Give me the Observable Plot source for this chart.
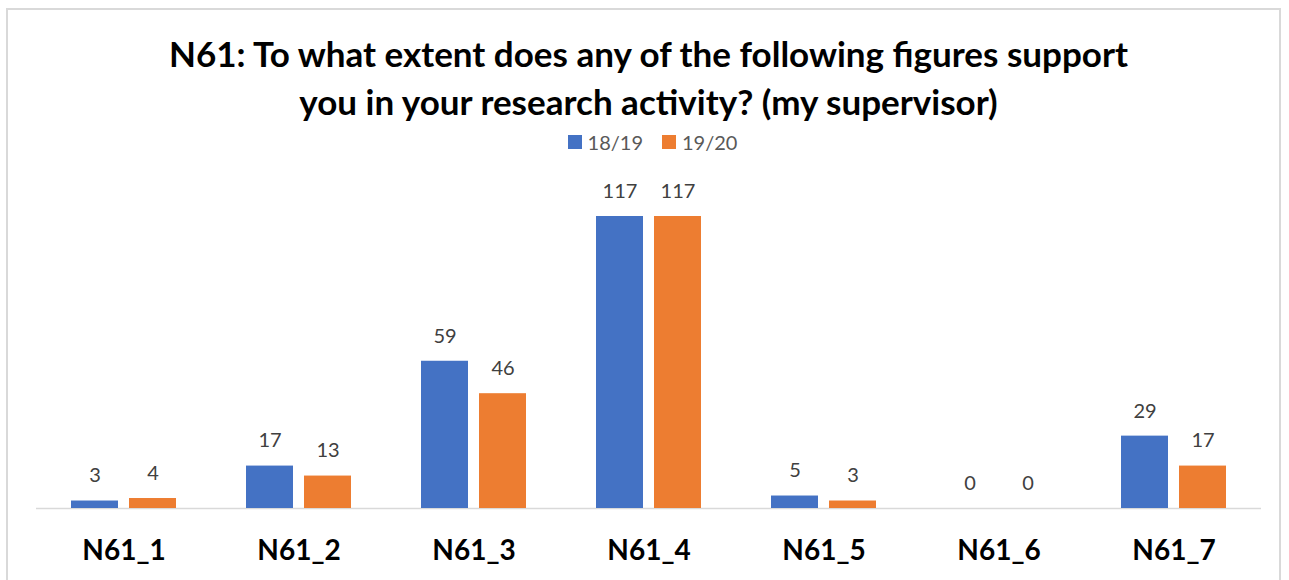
<!DOCTYPE html>
<html>
<head>
<meta charset="utf-8">
<script src="https://cdn.jsdelivr.net/npm/d3@7"></script>
<script src="https://cdn.jsdelivr.net/npm/@observablehq/plot@0.6"></script>
<style>
  html, body { margin: 0; padding: 0; background: #fff; }
  body { width: 1289px; height: 580px; position: relative; overflow: hidden; font-family: Lato, "Open Sans", sans-serif; }
  #frame { position: absolute; left: 6px; top: 8px; width: 1275px; height: 620px; border: 2px solid #d9d9d9; box-sizing: border-box; }
  #title { position: absolute; left: 0; top: 29px; width: 1297px; text-align: center; font-weight: 700; font-size: 35px; line-height: 48px; color: #000; }
  #legend { position: absolute; left: 0; top: 131px; width: 1305px; display: flex; justify-content: center; align-items: center; gap: 19px; font-size: 20px; color: #595959; height: 22px; }
  #legend .item { display: flex; align-items: center; gap: 6px; }
  #legend .sw { width: 14px; height: 14px; display: inline-block; }
  #chart { position: absolute; left: 0; top: 160px; }
</style>
</head>
<body>
<div id="frame"></div>
<div id="title">N61: To what extent does any of the following figures support<br>you in your research activity? (my supervisor)</div>
<div id="legend"></div>
<div id="chart"></div>
<script>
const categories = ["N61_1", "N61_2", "N61_3", "N61_4", "N61_5", "N61_6", "N61_7"];
const series = ["18/19", "19/20"];
const values1819 = [3, 17, 59, 117, 5, 0, 29];
const values1920 = [4, 13, 46, 117, 3, 0, 17];
const colors = ["#4472C4", "#ED7D31"];

const data = [];
categories.forEach((c, i) => {
  data.push({category: c, series: series[0], value: values1819[i]});
  data.push({category: c, series: series[1], value: values1920[i]});
});

const legend = document.getElementById("legend");
series.forEach((s, i) => {
  const item = document.createElement("div");
  item.className = "item";
  item.innerHTML = `<span class="sw" style="background:${colors[i]}"></span><span>${s}</span>`;
  legend.appendChild(item);
});

const chart = Plot.plot({
  width: 1289,
  height: 420,
  marginTop: 56,
  marginBottom: 72,
  marginLeft: 36,
  marginRight: 28,
  style: {fontFamily: "Lato, 'Open Sans', sans-serif", background: "transparent", overflow: "visible"},
  fx: {domain: categories, paddingInner: 0.4, paddingOuter: 0.2, label: null},
  x: {domain: series, paddingInner: 0.19, paddingOuter: 0, axis: null},
  y: {domain: [0, 117], axis: null},
  color: {domain: series, range: colors},
  marks: [
    Plot.ruleY([0], {stroke: "#d9d9d9", strokeWidth: 1.5, insetLeft: -35, insetRight: -35}),
    Plot.barY(data, {fx: "category", x: "series", y: "value", fill: "series"}),
    Plot.text(data, {fx: "category", x: "series", y: "value", text: d => String(d.value), dy: -25, fill: "#404040", fontSize: 20}),
    Plot.axisFx({anchor: "bottom", tickSize: 0, tickPadding: 32, fontSize: 28, fontWeight: 700, fill: "#000", label: null})
  ]
});
document.getElementById("chart").appendChild(chart);
</script>
</body>
</html>
